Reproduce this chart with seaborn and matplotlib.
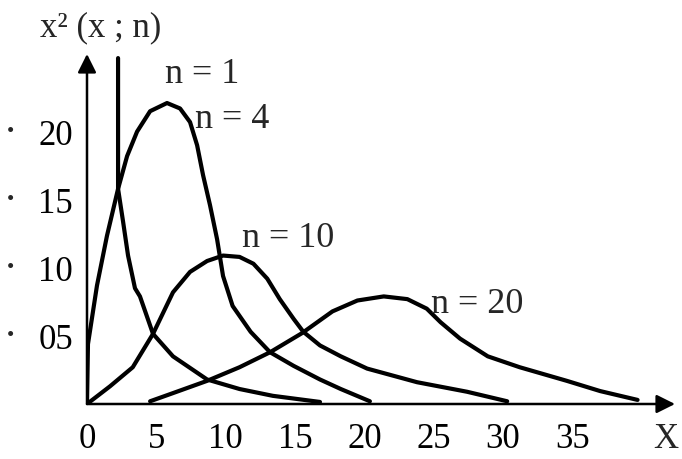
import pandas as pd
import matplotlib
matplotlib.use("Agg")
import matplotlib.pyplot as plt
import seaborn as sns

# 读图得到的曲线点 (x, y*100)
n1_x = [2.24, 2.24, 2.6, 2.96, 3.46, 3.82, 4.76, 6.2, 8.66, 11.0, 13.4, 16.8]
n1_y = [25.4, 15.8, 13.4, 10.9, 8.5, 7.9, 5.15, 3.5, 1.8, 1.1, 0.6, 0.15]

n4_x = [0, 0.07, 0.72, 1.44, 2.24, 2.89, 3.61, 4.55, 5.77, 6.71, 7.43, 7.94, 8.37, 8.87,
        9.38, 9.81, 10.5, 11.8, 13.2, 14.9, 16.8, 18.3, 20.4]
n4_y = [0, 4.4, 8.7, 12.35, 15.8, 18.2, 20.0, 21.5, 22.1, 21.7, 20.7, 19.0, 16.8, 14.6,
        12.1, 9.4, 7.2, 5.3, 3.8, 2.8, 1.8, 1.1, 0.2]

n10_x = [0, 1.66, 3.3, 4.76, 6.2, 7.43, 8.66, 9.81, 11.0, 12.0, 13.0, 13.9, 14.9, 15.6,
         16.8, 18.3, 20.2, 23.8, 27.4, 30.3]
n10_y = [0, 1.3, 2.7, 5.15, 8.2, 9.7, 10.5, 10.9, 10.8, 10.3, 9.2, 7.7, 6.25, 5.3,
         4.3, 3.5, 2.6, 1.6, 0.9, 0.2]

n20_x = [4.55, 6.2, 8.66, 11.0, 13.2, 15.5, 17.7, 19.5, 21.4, 23.1, 24.5, 25.5, 26.9,
         28.9, 31.2, 34.6, 37.0, 39.7]
n20_y = [0.2, 0.8, 1.7, 2.7, 3.8, 5.2, 6.8, 7.6, 7.9, 7.7, 7.0, 6.0, 4.8,
         3.5, 2.7, 1.7, 0.95, 0.3]

x_ticks = [0, 5, 10, 15, 20, 25, 30, 35]
y_ticks = [5, 10, 15, 20]
y_tick_labels = ['05', '10', '15', '20']

sns.set_theme(style="white")
plt.rcParams['font.family'] = ['Liberation Serif', 'DejaVu Serif']

fig = plt.figure(figsize=(6.82, 4.6), dpi=100)
ax = fig.add_axes([87 / 682, 55 / 460, 588 / 682, 350 / 460])

curves = [(n1_x, n1_y), (n4_x, n4_y), (n10_x, n10_y), (n20_x, n20_y)]
for xs, ys in curves:
    df = pd.DataFrame({'x': xs, 'y': ys})
    sns.lineplot(data=df, x='x', y='y', sort=False, estimator=None,
                 color='black', linewidth=3, ax=ax)

ax.set_xlim(0, 42.4)
ax.set_ylim(0, 25.7)
for s in ax.spines.values():
    s.set_visible(False)

# 坐标轴箭头
arrow = dict(arrowstyle='-|>', lw=1.8, color='black', mutation_scale=28, shrinkA=0, shrinkB=0)
ax.annotate('', xy=(42.4, 0), xytext=(0, 0), arrowprops=arrow, annotation_clip=False)
ax.annotate('', xy=(0, 25.7), xytext=(0, 0), arrowprops=arrow, annotation_clip=False)

ax.set_xticks(x_ticks)
ax.set_xticklabels([str(t) for t in x_ticks])
ax.set_yticks(y_ticks)
ax.set_yticklabels(y_tick_labels)
ax.tick_params(axis='x', direction='inout', length=10, width=1.8, labelsize=25, pad=8, colors='black')
ax.tick_params(axis='y', direction='out', length=9, width=1.8, labelsize=25, pad=1, colors='black')
ax.set_xlabel('')
ax.set_ylabel('')
ax.grid(False)

for t in y_ticks:
    ax.text(-0.13, t, '•', transform=ax.get_yaxis_transform(), fontsize=15,
            ha='center', va='center')

ax.text(0.985, -0.1, 'X', transform=ax.transAxes, fontsize=25, ha='center', va='center')
fig.text(40 / 682, 1 - 28 / 460, 'x² (x ; n)', fontsize=25, ha='left', va='center')

ax.text(5.6, 24.3, 'n = 1', fontsize=26, ha='left', va='center')
ax.text(7.8, 21.0, 'n = 4', fontsize=26, ha='left', va='center')
ax.text(11.2, 12.2, 'n = 10', fontsize=26, ha='left', va='center')
ax.text(24.8, 7.4, 'n = 20', fontsize=26, ha='left', va='center')

fig.savefig('out.png', dpi=100, facecolor='white')
